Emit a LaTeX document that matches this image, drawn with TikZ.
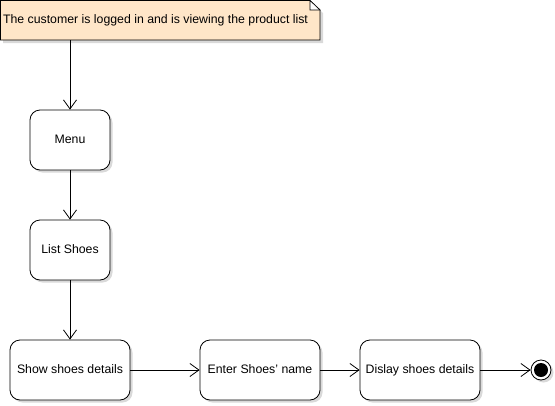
\documentclass[tikz,border=0pt]{standalone}
\usepackage{fontspec}
\setmainfont{Liberation Sans}
\usetikzlibrary{arrows.meta,shadows}
\definecolor{notefill}{RGB}{255,230,200}
\tikzset{
  stepbox/.style={draw=black, fill=white, rounded corners=10pt, minimum width=80pt, minimum height=60pt, inner sep=0pt, line width=0.8pt,
    text height=9pt, text depth=2.6pt,
    drop shadow={shadow xshift=2.5pt, shadow yshift=-2.5pt, opacity=0.3, fill=gray}},
  widebox/.style={stepbox, minimum width=120pt},
  conn/.style={draw, line width=0.8pt, -{Straight Barb[length=9pt,width=13pt,line width=0.8pt]}},
  txt/.style={font=\fontsize{12.3}{14}\selectfont}
}
\begin{document}
\begin{tikzpicture}[x=1pt,y=-1pt]
\useasboundingbox (0,0) rectangle (555,405);
% note
\fill[gray,opacity=0.3] (3,3) -- (313,3) -- (323,13) -- (323,43) -- (3,43) -- cycle;
\filldraw[fill=notefill, draw=black, line width=0.8pt] (0.5,0.5) -- (310,0.5) -- (320,10) -- (320,40) -- (0.5,40) -- cycle;
\filldraw[fill=white, draw=black, line width=0.6pt] (310,0.5) -- (310,10) -- (320,10) -- cycle;
\node[txt, inner sep=0pt] (note) at (155.5,20) {The customer is logged in and is viewing the product list};
\coordinate (notebot) at (70,40);
\node[stepbox, txt] (menu) at (70,140) {Menu};
\node[stepbox, txt] (list) at (70,250) {List Shoes};
\node[widebox, txt] (show) at (70,370) {Show shoes details};
\node[widebox, txt] (enter) at (260,370) {Enter Shoes' name};
\node[widebox, txt] (disp) at (420,370) {Dislay shoes details};
\fill[gray,opacity=0.3] (543.5,372.5) circle (10pt);
\node[circle, draw=black, fill=white, line width=0.8pt, minimum size=20pt, inner sep=0pt] (end) at (541,370) {};
\fill[black] (end.center) circle (7pt);
\draw[conn] (notebot) -- (menu.north);
\draw[conn] (menu.south) -- (list.north);
\draw[conn] (list.south) -- (show.north);
\draw[conn] (show.east) -- (enter.west);
\draw[conn] (enter.east) -- (disp.west);
\draw[conn] (disp.east) -- (end.west);
\end{tikzpicture}
\end{document}
